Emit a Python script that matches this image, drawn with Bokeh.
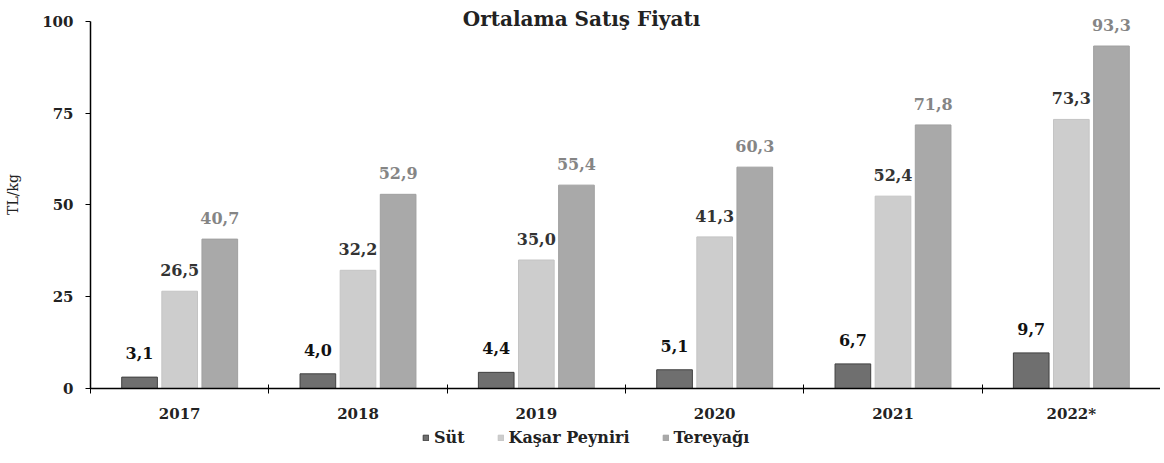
from bokeh.plotting import figure
from bokeh.layouts import column
from bokeh.models import (Range1d, FixedTicker, Legend, LegendItem,
                          ColumnDataSource, Label)
from bokeh.transform import dodge
from bokeh.core.properties import value
from bokeh.embed import file_html
from bokeh.resources import INLINE

# ---------------- data ----------------
years = ["2017", "2018", "2019", "2020", "2021", "2022*"]
series_names = ["Süt", "Kaşar Peyniri", "Tereyağı"]
sut = [3.1, 4.0, 4.4, 5.1, 6.7, 9.7]
kasar = [26.5, 32.2, 35.0, 41.3, 52.4, 73.3]
tereyagi = [40.7, 52.9, 55.4, 60.3, 71.8, 93.3]
y_ticks = [0, 25, 50, 75, 100]
title_text = "Ortalama Satış Fiyatı"
y_label = "TL/kg"

# ---------------- styling ----------------
FONT = "DejaVu Serif"
fills = ["#6f6f6f", "#cdcdcd", "#a9a9a9"]
lines = ["#404040", "#c4c4c4", "#a0a0a0"]
label_colors = ["#111111", "#333333", "#858585"]
offsets = [-0.225, 0.0, 0.225]
label_offsets = [-24, -21, -21]
BAR_W = 0.2


def fmt(v):
    return f"{v:.1f}".replace(".", ",")


centers = [i + 0.5 for i in range(len(years))]
data = dict(xc=centers)
cols = ["sut", "kasar", "tereyagi"]
for c, vals in zip(cols, [sut, kasar, tereyagi]):
    data[c] = vals
    data[c + "_lbl"] = [fmt(v) for v in vals]
src = ColumnDataSource(data)

p = figure(width=1160, height=428, output_backend="svg", toolbar_location=None,
           x_range=Range1d(0, len(years)), y_range=Range1d(0, 105.7),
           min_border_left=90, min_border_right=0, min_border_top=0,
           min_border_bottom=40)
p.background_fill_color = "white"
p.border_fill_color = "white"
p.outline_line_color = None
p.xgrid.visible = False
p.ygrid.visible = False

for i, c in enumerate(cols):
    p.vbar(x=dodge("xc", offsets[i], range=p.x_range), top=c, width=BAR_W,
           source=src, fill_color=fills[i], line_color=lines[i], line_width=1)
    p.text(x=dodge("xc", offsets[i], range=p.x_range), y=c, text=c + "_lbl",
           source=src, text_align="center", text_baseline="middle",
           y_offset=label_offsets[i], text_font=value(FONT),
           text_font_style="bold", text_font_size="16px",
           text_color=label_colors[i])

# x axis
xa = p.xaxis[0]
xa.ticker = FixedTicker(ticks=centers, minor_ticks=list(range(len(years) + 1)))
xa.major_label_overrides = {c: y for c, y in zip(centers, years)}
xa.major_tick_line_color = None
xa.major_tick_in = 0
xa.major_tick_out = 0
xa.minor_tick_line_color = "black"
xa.minor_tick_in = 4
xa.minor_tick_out = 5
xa.axis_line_color = "black"
xa.axis_line_width = 1.5
xa.major_label_standoff = 11
xa.major_label_text_font = FONT
xa.major_label_text_font_style = "bold"
xa.major_label_text_font_size = "15px"
xa.major_label_text_color = "#222222"

# y axis
ya = p.yaxis[0]
ya.ticker = FixedTicker(ticks=y_ticks)
ya.bounds = (y_ticks[0], y_ticks[-1])
ya.minor_tick_line_color = None
ya.major_tick_in = 0
ya.major_tick_out = 5
ya.major_tick_line_color = "black"
ya.axis_line_color = "black"
ya.axis_line_width = 1.5
ya.major_label_standoff = 12
ya.major_label_text_font = FONT
ya.major_label_text_font_style = "bold"
ya.major_label_text_font_size = "15px"
ya.major_label_text_color = "#222222"
ya.axis_label = y_label
ya.axis_label_text_font = FONT
ya.axis_label_text_font_style = "normal"
ya.axis_label_text_font_size = "14px"
ya.axis_label_text_color = "#222222"
ya.axis_label_standoff = 18

# title
p.add_layout(Label(x=491, y=370, x_units="screen", y_units="screen",
                   text=title_text, text_align="center", text_baseline="middle",
                   text_font=FONT, text_font_style="bold",
                   text_font_size="20px", text_color="#222222"))

# ---------------- legend strip ----------------
lg = figure(width=1160, height=35, output_backend="svg", toolbar_location=None,
            x_range=Range1d(0, 1), y_range=Range1d(0, 1),
            x_axis_type=None, y_axis_type=None,
            min_border_left=0, min_border_right=0, min_border_top=0,
            min_border_bottom=0)
lg.outline_line_color = None
lg.xgrid.visible = False
lg.ygrid.visible = False
proxy = ColumnDataSource(dict(x=[float("nan")], top=[float("nan")]))
lrs = [lg.vbar(x="x", top="top", width=0.1, source=proxy,
               fill_color=fills[i], line_color=lines[i])
       for i in range(len(series_names))]
legend = Legend(items=[LegendItem(label=n, renderers=[r])
                       for n, r in zip(series_names, lrs)],
                location=(332, 16), orientation="horizontal",
                border_line_color=None, background_fill_alpha=0,
                padding=0, margin=0, spacing=32, label_standoff=5,
                label_height=20, glyph_width=7, glyph_height=7,
                label_text_font=FONT, label_text_font_style="bold",
                label_text_font_size="16px", label_text_color="#222222")
lg.add_layout(legend, "center")

layout = column(p, lg, spacing=0)
open("out.html", "w").write(file_html(layout, INLINE))
